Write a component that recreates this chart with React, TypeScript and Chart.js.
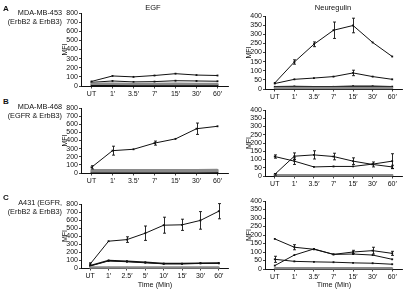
import React, { useEffect, useRef } from "react";
import { Chart, registerables } from "chart.js";

Chart.register(...registerables);

const FONT = "'Liberation Sans', Arial, Helvetica, sans-serif";

// ---------- categories ----------
const cats7 = ["UT", "1′", "3.5′", "7′", "15′", "30′", "60′"];
const catsC = ["UT", "1′", "2.5′", "5′", "10′", "15′", "30′", "60′"];

// ---------- tick settings ----------
const egfMax = 800;
const egfStep = 100;
const nrgMax = 400;
const nrgStep = 50;

// ---------- A: MDA-MB-453, EGF ----------
const aEgf1 = [50, 110, 100, 115, 135, 120, 115];
const aEgf2 = [40, 55, 45, 48, 58, 55, 52];
const aEgf3 = [25, 25, 22, 22, 25, 22, 22];
const aEgf4 = [8, 8, 8, 8, 8, 8, 8];

// ---------- A: MDA-MB-453, Neuregulin ----------
const aNrg1 = [33, 148, 245, 322, 348, 255, 178];
const aNrg1Err = [0, 12, 13, 45, 40, 0, 0];
const aNrg2 = [30, 53, 60, 68, 88, 68, 53];
const aNrg2Err = [0, 0, 0, 0, 15, 0, 0];
const aNrg3 = [12, 14, 12, 12, 15, 15, 13];
const aNrg4 = [5, 5, 5, 5, 5, 5, 5];

// ---------- B: MDA-MB-468, EGF ----------
const bEgf1 = [70, 275, 292, 368, 420, 545, 575];
const bEgf1Err = [20, 55, 0, 25, 0, 70, 0];
const bEgf2 = [35, 35, 35, 35, 35, 35, 38];
const bEgf3 = [20, 22, 22, 22, 22, 22, 25];
const bEgf4 = [5, 5, 5, 5, 5, 5, 5];

// ---------- B: MDA-MB-468, Neuregulin ----------
const bNrg1 = [118, 90, 55, 58, 58, 72, 90];
const bNrg1Err = [10, 20, 0, 0, 0, 0, 45];
const bNrg2 = [10, 120, 128, 118, 90, 70, 55];
const bNrg2Err = [5, 20, 25, 20, 20, 15, 10];
const bNrg3 = [5, 5, 5, 5, 5, 5, 5];
const bNrg4 = [3, 3, 3, 3, 3, 3, 3];

// ---------- C: A431, EGF ----------
const cEgf1 = [50, 335, 355, 435, 535, 540, 595, 710];
const cEgf1Err = [15, 0, 35, 90, 100, 70, 110, 95];
const cEgf2 = [30, 95, 85, 72, 55, 55, 60, 62];
const cEgf3 = [25, 88, 78, 65, 52, 52, 58, 58];
const cEgf4 = [5, 5, 5, 5, 5, 5, 5, 5];

// ---------- C: A431, Neuregulin ----------
const cNrg1 = [177, 128, 116, 86, 88, 82, 57];
const cNrg1Err = [0, 15, 0, 0, 0, 0, 0];
const cNrg2 = [20, 82, 118, 86, 100, 108, 92];
const cNrg2Err = [0, 0, 0, 0, 10, 20, 12];
const cNrg3 = [57, 45, 42, 40, 36, 34, 28];
const cNrg3Err = [18, 0, 0, 0, 0, 0, 0];
const cNrg4 = [4, 4, 4, 4, 4, 4, 4];

// ---------- styles ----------
const BLACK = "#111";
const GRAY = "#8a8a8a";

type Series = { data: number[]; err?: number[]; color: string; width: number };

const mk = (data: number[], color: string, width: number, err?: number[]): Series => ({ data, err, color, width });

const errorBarPlugin = {
  id: "errbars",
  afterDatasetsDraw(chart: any) {
    const ctx = chart.ctx;
    const ys = chart.scales.y;
    chart.data.datasets.forEach((ds: any, i: number) => {
      const errs: number[] | undefined = ds.errors;
      if (!errs) return;
      const meta = chart.getDatasetMeta(i);
      ctx.save();
      ctx.strokeStyle = BLACK;
      ctx.lineWidth = 0.9;
      meta.data.forEach((pt: any, j: number) => {
        const e = errs[j];
        if (!e) return;
        const v = ds.data[j];
        const x = Math.round(pt.x) + 0.5;
        const y1 = ys.getPixelForValue(v + e);
        const y2 = ys.getPixelForValue(Math.max(0, v - e));
        ctx.beginPath();
        ctx.moveTo(x, y1);
        ctx.lineTo(x, y2);
        ctx.moveTo(x - 1.5, y1);
        ctx.lineTo(x + 1.5, y1);
        ctx.moveTo(x - 1.5, y2);
        ctx.lineTo(x + 1.5, y2);
        ctx.stroke();
      });
      ctx.restore();
    });
  },
};

const YW = 20; // y-axis box width
const XH = 13; // x-axis box height
const PT = 6;
const PR = 2;

type Box = { x0: number; x1: number; y0: number; y1: number };

function Panel({ labels, series, yMax, yStep, box }: { labels: string[]; series: Series[]; yMax: number; yStep: number; box: Box }) {
  const ref = useRef<HTMLCanvasElement | null>(null);
  const W = box.x1 - box.x0 + YW + PR;
  const H = box.y1 - box.y0 + PT + XH;
  useEffect(() => {
    if (!ref.current) return;
    const font = { family: FONT, size: 7 };
    const chart = new Chart(ref.current, {
      type: "line",
      data: {
        labels,
        datasets: series.map((s) => ({
          data: s.data,
          errors: s.err,
          borderColor: s.color,
          backgroundColor: s.color,
          borderWidth: s.width,
          pointRadius: 1.3,
          pointStyle: "rect",
          pointBorderWidth: 0,
          tension: 0,
          clip: false,
        })) as any,
      },
      options: {
        animation: false,
        responsive: false,
        maintainAspectRatio: false,
        events: [],
        layout: { padding: { top: PT, right: PR, left: 0, bottom: 0 } },
        plugins: { legend: { display: false }, tooltip: { enabled: false } },
        scales: {
          x: {
            offset: true,
            grid: { display: true, drawOnChartArea: false, drawTicks: true, tickLength: 2.5, color: BLACK, lineWidth: 0.8 },
            border: { display: true, color: BLACK, width: 1 },
            ticks: { font, color: BLACK, padding: 1.5, maxRotation: 0, autoSkip: false },
            afterFit: (s: any) => {
              s.height = XH;
            },
          },
          y: {
            min: 0,
            max: yMax,
            ticks: { stepSize: yStep, font, color: BLACK, padding: 1, autoSkip: false },
            grid: { display: true, drawOnChartArea: false, drawTicks: true, tickLength: 2, color: BLACK, lineWidth: 0.8 },
            border: { display: true, color: BLACK, width: 1 },
            title: { display: true, text: "MFI", font, color: BLACK, padding: 0 },
            afterFit: (s: any) => {
              s.width = YW;
            },
          },
        },
      } as any,
      plugins: [errorBarPlugin],
    });
    return () => chart.destroy();
  }, []);
  return (
    <div style={{ position: "absolute", left: box.x0 - YW, top: box.y0 - PT, width: W, height: H }}>
      <canvas ref={ref} width={W} height={H} style={{ width: W, height: H, display: "block" }} />
    </div>
  );
}

const txt = (s: string, x: number, y: number, opts: any = {}) => (
  <div
    style={{
      position: "absolute",
      left: opts.align === "right" ? undefined : opts.align === "center" ? x - 60 : x,
      right: opts.align === "right" ? 405 - x : undefined,
      width: opts.align === "center" ? 120 : undefined,
      textAlign: opts.align || "left",
      top: y - 5,
      height: 10,
      lineHeight: "10px",
      fontFamily: FONT,
      fontSize: opts.size || 7.3,
      fontWeight: opts.bold ? "bold" : "normal",
      color: BLACK,
      whiteSpace: "nowrap",
    }}
  >
    {s}
  </div>
);

const boxes = {
  aL: { x0: 81, x1: 230, y0: 13, y1: 86 },
  aR: { x0: 265, x1: 404, y0: 16, y1: 89 },
  bL: { x0: 81, x1: 230, y0: 108, y1: 173 },
  bR: { x0: 265, x1: 404, y0: 110, y1: 176 },
  cL: { x0: 81, x1: 230, y0: 204, y1: 268 },
  cR: { x0: 265, x1: 404, y0: 201, y1: 269 },
};

export default function App() {
  return (
    <div style={{ position: "absolute", left: 0, top: 0, width: 405, height: 292, background: "#fff", overflow: "hidden" }}>
      <Panel labels={cats7} yMax={egfMax} yStep={egfStep} box={boxes.aL}
        series={[mk(aEgf3, GRAY, 2.5), mk(aEgf4, BLACK, 1.5), mk(aEgf2, BLACK, 1), mk(aEgf1, BLACK, 1)]} />
      <Panel labels={cats7} yMax={nrgMax} yStep={nrgStep} box={boxes.aR}
        series={[mk(aNrg4, GRAY, 2.5), mk(aNrg3, BLACK, 1.5), mk(aNrg2, BLACK, 1, aNrg2Err), mk(aNrg1, BLACK, 1, aNrg1Err)]} />
      <Panel labels={cats7} yMax={egfMax} yStep={egfStep} box={boxes.bL}
        series={[mk(bEgf2, GRAY, 2.5), mk(bEgf3, GRAY, 2.5), mk(bEgf4, BLACK, 1.5), mk(bEgf1, BLACK, 1, bEgf1Err)]} />
      <Panel labels={cats7} yMax={nrgMax} yStep={nrgStep} box={boxes.bR}
        series={[mk(bNrg3, GRAY, 2.5), mk(bNrg4, BLACK, 1.5), mk(bNrg1, BLACK, 1, bNrg1Err), mk(bNrg2, BLACK, 1, bNrg2Err)]} />
      <Panel labels={catsC} yMax={egfMax} yStep={egfStep} box={boxes.cL}
        series={[mk(cEgf4, GRAY, 2.5), mk(cEgf3, BLACK, 1), mk(cEgf2, BLACK, 1.5), mk(cEgf1, BLACK, 1, cEgf1Err)]} />
      <Panel labels={cats7} yMax={nrgMax} yStep={nrgStep} box={boxes.cR}
        series={[mk(cNrg4, GRAY, 2.5), mk(cNrg3, BLACK, 1, cNrg3Err), mk(cNrg2, BLACK, 1, cNrg2Err), mk(cNrg1, BLACK, 1, cNrg1Err)]} />

      {txt("EGF", 153, 8, { align: "center", size: 7.5 })}
      {txt("Neuregulin", 333, 8, { align: "center", size: 7.5 })}

      {txt("A", 3, 9, { bold: true, size: 8 })}
      {txt("MDA-MB-453", 62, 13, { align: "right" })}
      {txt("(ErbB2 & ErbB3)", 62, 21.5, { align: "right" })}

      {txt("B", 3, 102, { bold: true, size: 8 })}
      {txt("MDA-MB-468", 62, 107, { align: "right" })}
      {txt("(EGFR & ErbB3)", 62, 115.5, { align: "right" })}

      {txt("C", 3, 198, { bold: true, size: 8 })}
      {txt("A431 (EGFR,", 62, 203, { align: "right" })}
      {txt("(ErbB2 & ErbB3)", 62, 211.5, { align: "right" })}

      {txt("Time (Min)", 155, 285, { align: "center" })}
      {txt("Time (Min)", 334, 285, { align: "center" })}
    </div>
  );
}
